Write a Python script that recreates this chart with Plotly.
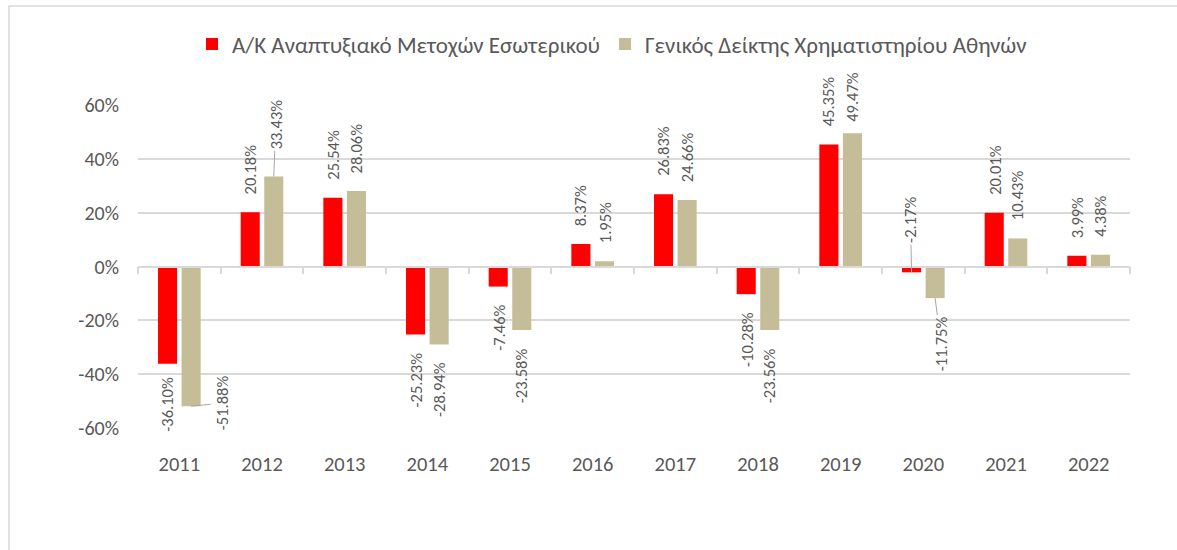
import plotly.graph_objects as go

# ---------------- data ----------------
years = ["2011", "2012", "2013", "2014", "2015", "2016",
         "2017", "2018", "2019", "2020", "2021", "2022"]
fund_name = "Α/Κ Αναπτυξιακό Μετοχών Εσωτερικού"
index_name = "Γενικός Δείκτης Χρηματιστηρίου Αθηνών"
fund_returns = [-36.10, 20.18, 25.54, -25.23, -7.46, 8.37,
                26.83, -10.28, 45.35, -2.17, 20.01, 3.99]
index_returns = [-51.88, 33.43, 28.06, -28.94, -23.58, 1.95,
                 24.66, -23.56, 49.47, -11.75, 10.43, 4.38]
y_ticks = [-60, -40, -20, 0, 20, 40, 60]
y_tick_labels = [f"{v}%" for v in y_ticks]

# ---------------- style ----------------
FONT = "Carlito, Calibri, 'Noto Sans', sans-serif"
TXT = "#595959"
GRID = "#D9D9D9"
RED = "#FF0000"
TAN = "#C4BD97"
BARGAP = 0.43
GROUPGAP = 0.19
OFF = (1 - BARGAP) / 4  # centre offset of each bar inside its group

# label placement tweaks (series, index) -> options
special = {
    ("fund", 0): dict(gap=11),
    ("index", 0): dict(ax=31, ay=-3),
    ("index", 1): dict(ax=2, ay=-52),
    ("index", 8): dict(gap=10),
    ("fund", 9): dict(ax=-1, ay=-52),
    ("index", 9): dict(ax=6, ay=46),
}

fig = go.Figure()
fig.add_trace(go.Bar(x=years, y=fund_returns, name=fund_name,
                     marker=dict(color=RED, line=dict(width=0)), hoverinfo="skip"))
fig.add_trace(go.Bar(x=years, y=index_returns, name=index_name,
                     marker=dict(color=TAN, line=dict(width=0)), hoverinfo="skip"))
# invisible helper trace for the zero axis with boundary ticks
fig.add_trace(go.Scatter(x=list(range(len(years))), y=[0] * len(years), xaxis="x2",
                         mode="markers", marker=dict(opacity=0), showlegend=False,
                         hoverinfo="skip"))

annotations = []
for key, vals, sign in (("fund", fund_returns, -1), ("index", index_returns, 1)):
    for i, v in enumerate(vals):
        opts = special.get((key, i), {})
        base = dict(x=i + sign * OFF, y=v, xref="x", yref="y",
                    text=f"{v:.2f}%", textangle=-90,
                    font=dict(family=FONT, size=16.5, color=TXT))
        if "ax" in opts:
            base.update(showarrow=True, arrowhead=0, arrowwidth=1,
                        arrowcolor="#A6A6A6", ax=opts["ax"], ay=opts["ay"])
        else:
            gap = opts.get("gap", 16)
            base.update(showarrow=False, xanchor="center",
                        yanchor="bottom" if v >= 0 else "top",
                        yshift=gap if v >= 0 else -gap)
        annotations.append(base)

fig.update_layout(
    width=1177, height=550,
    margin=dict(l=138, r=47, t=105, b=122),
    paper_bgcolor="white", plot_bgcolor="white",
    barmode="group", bargap=BARGAP, bargroupgap=GROUPGAP,
    font=dict(family=FONT, color=TXT, size=20),
    showlegend=True,
    legend=dict(orientation="h", x=(192 - 138) / 992, xanchor="left",
                y=1 + (105 - 44) / 323, yanchor="middle",
                font=dict(family=FONT, size=23, color=TXT),
                bgcolor="rgba(0,0,0,0)"),
    xaxis=dict(type="category", showgrid=False, showline=False, ticks="",
               zeroline=False, ticklabelstandoff=21,
               tickfont=dict(family=FONT, size=20.5, color=TXT)),
    xaxis2=dict(overlaying="x", anchor="free", position=0.5, range=[-0.5, len(years) - 0.5],
                showgrid=False, zeroline=False, showline=True, linecolor=GRID, linewidth=1.5,
                ticks="outside", ticklen=7, tickcolor=GRID, tickwidth=1.5,
                tickvals=[k - 0.5 for k in range(len(years) + 1)],
                showticklabels=False),
    yaxis=dict(range=[-60, 60], tickvals=y_ticks, ticktext=y_tick_labels,
               showgrid=True, gridcolor=GRID, gridwidth=1.5,
               zeroline=False, showline=False, ticks="",
               ticklabelstandoff=18,
               tickfont=dict(family=FONT, size=20, color=TXT)),
    annotations=annotations,
    shapes=[dict(type="rect", xref="paper", yref="paper",
                 x0=(9 - 138) / 992, x1=1.2, y0=-1.0, y1=1 + (105 - 6) / 323,
                 line=dict(color=GRID, width=1.5), fillcolor="rgba(0,0,0,0)", layer="below")],
)

fig.write_html("out.html", config={"displayModeBar": False},
               post_script="document.body.style.margin='0';")
